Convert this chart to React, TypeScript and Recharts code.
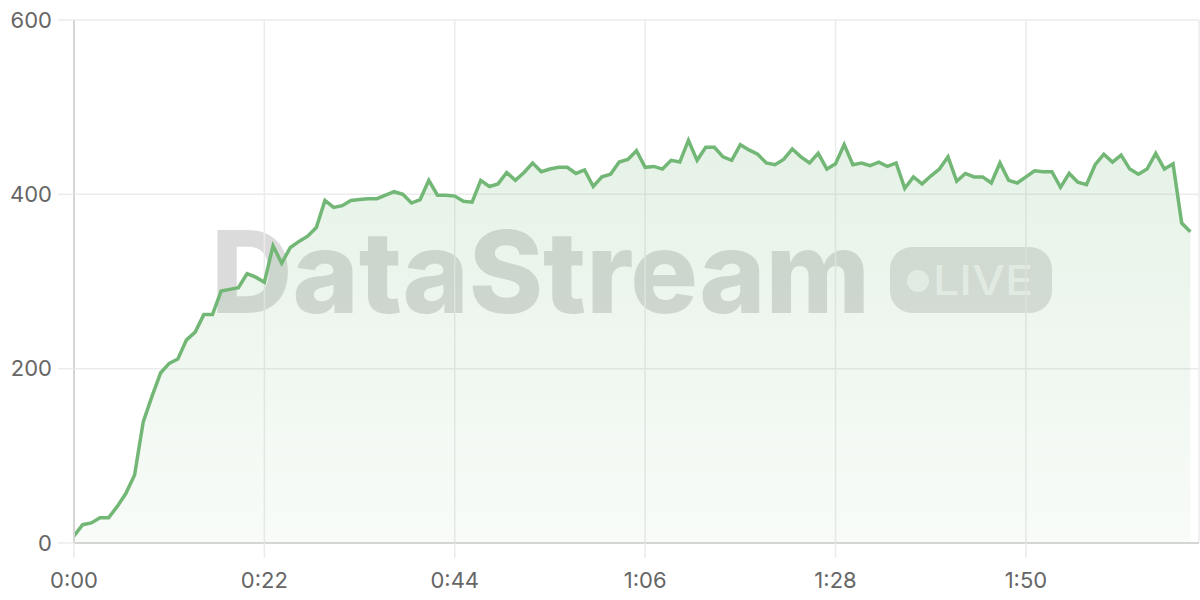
import React from 'react';
import { AreaChart, Area, XAxis, YAxis, CartesianGrid } from 'recharts';

const seconds: number[] = Array.from({ length: 130 }, (_, i) => i);
const users: number[] = [
  8, 21, 23, 29, 29, 42, 57, 78, 139, 168,
  195, 206, 211, 233, 242, 262, 262, 289, 291, 293,
  309, 305, 299, 341, 321, 339, 346, 352, 362, 393,
  385, 387, 393, 394, 395, 395, 399, 403, 400, 390,
  394, 416, 399, 399, 398, 392, 391, 416, 409, 412,
  425, 416, 425, 436, 426, 429, 431, 431, 424, 428,
  409, 420, 423, 437, 440, 450, 431, 432, 429, 439,
  437, 462, 439, 454, 454, 443, 439, 457, 451, 446,
  436, 434, 440, 452, 443, 436, 447, 429, 435, 457,
  434, 436, 433, 437, 432, 436, 407, 420, 412, 421,
  429, 443, 415, 424, 420, 420, 413, 436, 416, 413,
  420, 427, 426, 426, 408, 424, 414, 411, 434, 446,
  437, 445, 429, 423, 429, 447, 429, 435, 367, 357,
];
const xTicks: number[] = [0, 22, 44, 66, 88, 110];
const yTicks: number[] = [0, 200, 400, 600];
const watermarkTitle = 'DataStream';
const watermarkBadge = 'LIVE';

const data = seconds.map((t, i) => ({ t, v: users[i] }));

const fmt = (s: number) => `${Math.floor(s / 60)}:${String(s % 60).padStart(2, '0')}`;

const LINE = '#72b776';
const FONT = 'Inter, "Liberation Sans", Arial, sans-serif';

export default function App() {
  return (
    <div style={{ position: 'absolute', left: 0, top: 0, width: 1200, height: 600, background: '#fff' }}>
      <svg width={1200} height={600} style={{ position: 'absolute', left: 0, top: 0 }}>
        <text
          x={211}
          y={313}
          fontFamily={FONT}
          fontWeight={800}
          fontSize={114}
          textLength={659}
          lengthAdjust="spacingAndGlyphs"
          fill="rgba(0,0,0,0.14)"
        >
          {watermarkTitle}
        </text>
        <rect x={890} y={247} width={162} height={66} rx={22} fill="rgba(0,0,0,0.12)" />
        <circle cx={918} cy={281} r={11} fill="rgba(255,255,255,0.62)" />
        <text
          x={933}
          y={295}
          fontFamily={FONT}
          fontWeight={500}
          fontSize={41}
          textLength={100}
          lengthAdjust="spacingAndGlyphs"
          fill="rgba(255,255,255,0.62)"
        >
          {watermarkBadge}
        </text>
      </svg>
      <div style={{ position: 'absolute', left: 0, top: 0 }}>
        <AreaChart width={1200} height={600} data={data} margin={{ top: 20, right: 1, left: 0, bottom: 0 }}>
          <defs>
            <linearGradient id="fillGrad" x1="0" y1="0" x2="0" y2="1">
              <stop offset="0%" stopColor={LINE} stopOpacity={0.3} />
              <stop offset="100%" stopColor={LINE} stopOpacity={0.08} />
            </linearGradient>
          </defs>
          <CartesianGrid stroke="#ebebeb" strokeWidth={1.5} />
          <XAxis
            dataKey="t"
            type="number"
            domain={[0, 130]}
            ticks={xTicks}
            tickFormatter={fmt}
            height={57}
            tickSize={15}
            tickMargin={14}
            axisLine={{ stroke: '#d5d5d5', strokeWidth: 2 }}
            tickLine={{ stroke: '#ebebeb', strokeWidth: 1.5 }}
            tick={{ fill: '#666', fontSize: 22, fontFamily: FONT }}
          />
          <YAxis
            type="number"
            domain={[0, 600]}
            ticks={yTicks}
            width={74}
            tickSize={16}
            tickMargin={6}
            axisLine={{ stroke: '#d5d5d5', strokeWidth: 2 }}
            tickLine={{ stroke: '#ebebeb', strokeWidth: 1.5 }}
            tick={{ fill: '#666', fontSize: 22, fontFamily: FONT }}
          />
          <Area
            type="linear"
            dataKey="v"
            stroke={LINE}
            strokeWidth={3.5}
            fill="url(#fillGrad)"
            isAnimationActive={false}
            dot={false}
            activeDot={false}
          />
        </AreaChart>
      </div>
    </div>
  );
}
